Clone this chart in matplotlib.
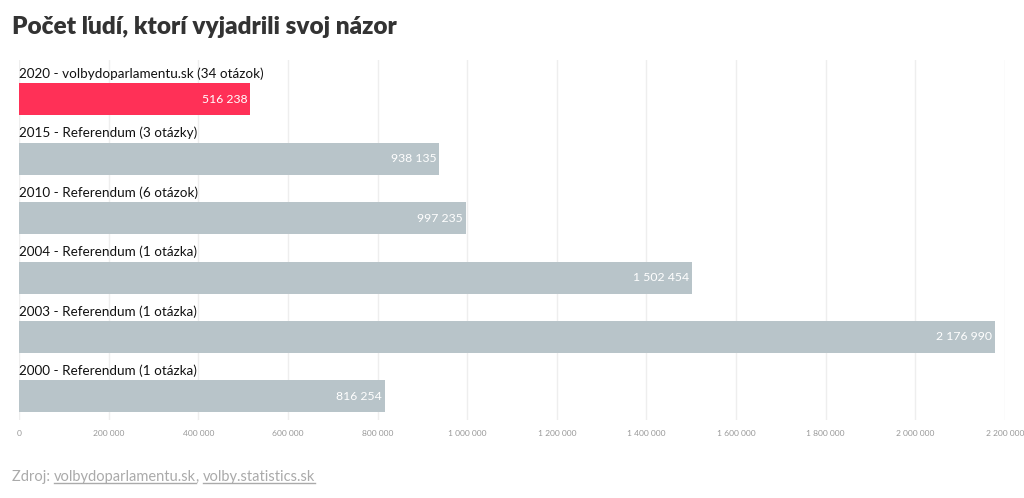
import matplotlib
matplotlib.use("Agg")
import matplotlib.pyplot as plt
from matplotlib.lines import Line2D

plt.rcParams['font.family'] = ['Lato', 'DejaVu Sans']

categories = [
    "2020 - volbydoparlamentu.sk (34 otázok)",
    "2015 - Referendum (3 otázky)",
    "2010 - Referendum (6 otázok)",
    "2004 - Referendum (1 otázka)",
    "2003 - Referendum (1 otázka)",
    "2000 - Referendum (1 otázka)",
]
values = [516238, 938135, 997235, 1502454, 2176990, 816254]
highlight = [True, False, False, False, False, False]
xticks = [0, 200000, 400000, 600000, 800000, 1000000, 1200000, 1400000,
          1600000, 1800000, 2000000, 2200000]

def fmt(v):
    return f"{v:,}".replace(",", " ")

W, H = 1024, 498
fig = plt.figure(figsize=(W / 100, H / 100), dpi=100)
top_px, bot_px = 60, 420
left_px, right_px = 19, 1005
ax = fig.add_axes([left_px / W, 1 - bot_px / H, (right_px - left_px) / W, (bot_px - top_px) / H])

spacing = 59.5
c0 = 99
ax.set_ylim((bot_px - c0) / spacing, (top_px - c0) / spacing)
ax.set_xlim(0, 2200000)

ys = list(range(len(values)))
colors = ['#ff3057' if h else '#b8c4c9' for h in highlight]
ax.barh(ys, values, height=32 / spacing, color=colors, zorder=2)

for y, v, c in zip(ys, values, categories):
    ax.text(v, y, fmt(v) + " ", ha='right', va='center', color='white',
            fontsize=8.8, zorder=3)
    ax.text(0, y - 0.43, c, ha='left', va='center', color='#111111',
            fontsize=9.7, zorder=3)

ax.set_xticks(xticks)
ax.set_xticklabels([fmt(t) for t in xticks], fontsize=6.1, color='#999999')
ax.tick_params(axis='x', length=0, pad=7)
ax.set_yticks([])
ax.grid(axis='x', color='#eeeeee', linewidth=1, zorder=0)
for s in ax.spines.values():
    s.set_visible(False)

fig.text(12 / W, 1 - 27.5 / H, "Počet ľudí, ktorí vyjadrili svoj názor",
         fontsize=17.6, fontweight='heavy', color='#333333', ha='left', va='center')

# Source line with underlined links
src_y = 1 - 477 / H
pieces = [("Zdroj: ", False), ("volbydoparlamentu.sk", True), (", ", False),
          ("volby.statistics.sk", True)]
fig.canvas.draw()
renderer = fig.canvas.get_renderer()
x = 12 / W
for txt, ul in pieces:
    t = fig.text(x, src_y, txt, fontsize=10.5, color='#aaaaaa', ha='left', va='center')
    bb = t.get_window_extent(renderer)
    if ul:
        yline = (bb.y0 + 1) / H
        fig.add_artist(Line2D([bb.x0 / W, bb.x1 / W], [yline, yline],
                              color='#aaaaaa', linewidth=1, transform=fig.transFigure))
    x = bb.x1 / W

fig.savefig("out.png", dpi=100)
